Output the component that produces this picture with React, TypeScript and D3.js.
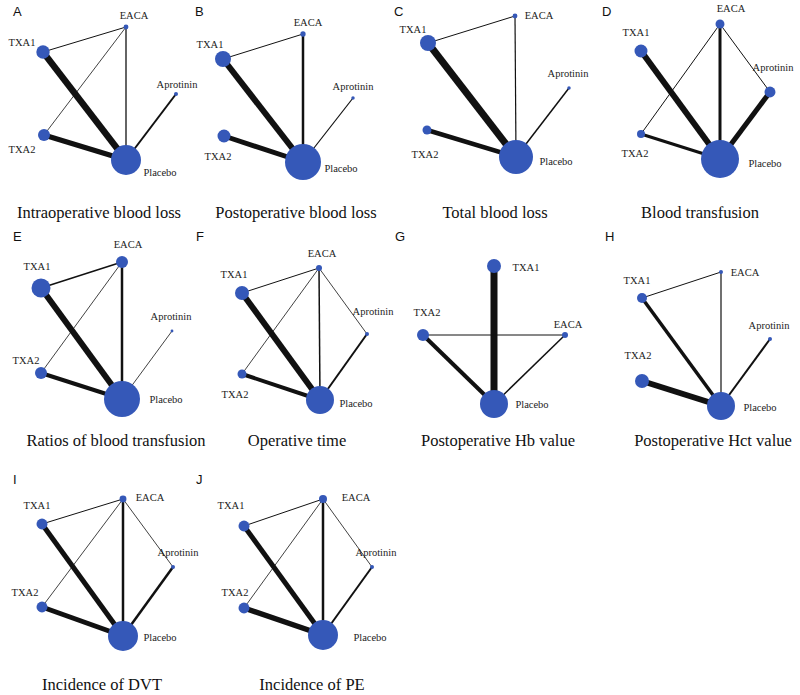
import React from "react";
import * as d3 from "d3";

// ---------------- DATA ----------------
const treatments = ["TXA1", "TXA2", "EACA", "Aprotinin", "Placebo"];
const panelLetters = ["A", "B", "C", "D", "E", "F", "G", "H", "I", "J"];
const outcomes = [
  "Intraoperative blood loss",
  "Postoperative blood loss",
  "Total blood loss",
  "Blood transfusion",
  "Ratios of blood transfusion",
  "Operative time",
  "Postoperative Hb value",
  "Postoperative Hct value",
  "Incidence of DVT",
  "Incidence of PE",
];
// node sizes (order: TXA1, TXA2, EACA, Aprotinin, Placebo); 0 = not in network
const nodeSizes: number[][] = [
  [45, 36, 6, 4, 225],
  [64, 42, 7, 3, 324],
  [64, 20, 6, 3, 289],
  [42, 16, 20, 30, 361],
  [90, 36, 36, 2, 324],
  [49, 20, 9, 4, 196],
  [49, 36, 9, 0, 196],
  [25, 49, 4, 4, 196],
  [30, 30, 12, 4, 225],
  [30, 30, 16, 4, 225],
];
// edge weights (number of comparisons)
const edgeWeights: [string, string, number][][] = [
  [["TXA1", "EACA", 2], ["TXA2", "EACA", 1.6], ["EACA", "Placebo", 2.6], ["TXA1", "Placebo", 13], ["TXA2", "Placebo", 10], ["Aprotinin", "Placebo", 4]],
  [["TXA1", "EACA", 2], ["EACA", "Placebo", 5], ["Aprotinin", "Placebo", 2.4], ["TXA1", "Placebo", 12], ["TXA2", "Placebo", 10]],
  [["TXA1", "EACA", 2], ["EACA", "Placebo", 2.4], ["Aprotinin", "Placebo", 3], ["TXA1", "Placebo", 14], ["TXA2", "Placebo", 9]],
  [["TXA1", "Placebo", 12], ["EACA", "Placebo", 6], ["TXA2", "EACA", 2], ["EACA", "Aprotinin", 2], ["TXA2", "Placebo", 6], ["Aprotinin", "Placebo", 10]],
  [["TXA1", "EACA", 3], ["TXA2", "EACA", 1.6], ["EACA", "Placebo", 5], ["TXA1", "Placebo", 12], ["TXA2", "Placebo", 8], ["Aprotinin", "Placebo", 1.6]],
  [["TXA1", "EACA", 2], ["TXA2", "EACA", 1.6], ["EACA", "Aprotinin", 1.6], ["EACA", "Placebo", 3], ["TXA1", "Placebo", 12], ["TXA2", "Placebo", 8], ["Aprotinin", "Placebo", 4]],
  [["TXA1", "Placebo", 14], ["TXA2", "EACA", 2], ["TXA2", "Placebo", 8], ["EACA", "Placebo", 3]],
  [["TXA1", "EACA", 2], ["EACA", "Placebo", 2.4], ["Aprotinin", "Placebo", 4], ["TXA1", "Placebo", 7], ["TXA2", "Placebo", 12]],
  [["TXA1", "EACA", 2], ["TXA2", "EACA", 1.6], ["EACA", "Aprotinin", 1.6], ["EACA", "Placebo", 5], ["TXA1", "Placebo", 10], ["TXA2", "Placebo", 10], ["Aprotinin", "Placebo", 5]],
  [["TXA1", "EACA", 2], ["TXA2", "EACA", 1.6], ["EACA", "Aprotinin", 1.6], ["EACA", "Placebo", 5], ["TXA1", "Placebo", 10], ["TXA2", "Placebo", 11], ["Aprotinin", "Placebo", 4]],
];

// ---------------- LAYOUT ----------------
const COLS = [0, 195, 395, 595];
const ROWS = [0, 220, 460];
const TITLE_Y = [218, 446, 690];
const LETTER_Y = [16, 241, 484];
const letterX = [13, 195, 394, 602, 13, 196, 395, 605, 13, 196];
const titleX = [99, 296, 495, 700, 116, 297, 498, 713, 102, 312];
// per panel, per treatment: node [x, y] and label [cx, baseline] in panel-local units
type L = Record<string, [number, number, number, number]>;
const layouts: L[] = [
  { EACA: [126, 27, 134, 19], TXA1: [43, 52, 22, 46], Aprotinin: [176, 94, 177, 88], TXA2: [44, 135, 22, 153], Placebo: [126, 160, 160, 176] },
  { EACA: [108, 34, 113, 26], TXA1: [28, 59, 15, 48], Aprotinin: [158, 98, 158, 90], TXA2: [29, 136, 23, 160], Placebo: [108, 162, 146, 172] },
  { EACA: [120, 16, 144, 19], TXA1: [33, 43, 18, 33], Aprotinin: [174, 88, 173, 77], TXA2: [32, 130, 30, 158], Placebo: [121, 157, 161, 165] },
  { EACA: [125, 24, 136, 12], TXA1: [46, 51, 41, 36], Aprotinin: [175, 92, 178, 71], TXA2: [46, 134, 40, 157], Placebo: [125, 159, 170, 167] },
  { EACA: [122, 42, 128, 28], TXA1: [41, 68, 37, 50], Aprotinin: [172, 111, 171, 100], TXA2: [41, 153, 26, 144], Placebo: [122, 179, 166, 183] },
  { EACA: [124, 48, 127, 37], TXA1: [47, 73, 39, 58], Aprotinin: [172, 114, 178, 95], TXA2: [47, 154, 40, 178], Placebo: [125, 180, 161, 187] },
  { TXA1: [99, 46, 131, 51], TXA2: [28, 115, 32, 96], EACA: [170, 115, 173, 108], Placebo: [99, 184, 137, 188] },
  { EACA: [126, 52, 150, 56], TXA1: [47, 78, 42, 64], Aprotinin: [175, 119, 174, 109], TXA2: [47, 161, 43, 139], Placebo: [126, 186, 165, 191] },
  { EACA: [123, 39, 150, 41], TXA1: [42, 64, 37, 49], Aprotinin: [173, 107, 178, 96], TXA2: [42, 147, 25, 136], Placebo: [123, 176, 160, 181] },
  { EACA: [128, 39, 161, 41], TXA1: [49, 66, 36, 49], Aprotinin: [177, 107, 181, 96], TXA2: [49, 148, 40, 136], Placebo: [128, 175, 175, 181] },
];

const NODE_COLOR = "#3558b8";
const SERIF = "'Liberation Serif', 'Times New Roman', Times, serif";
const SANS = "'Liberation Sans', Arial, Helvetica, sans-serif";
const rScale = d3.scaleSqrt().domain([0, 400]).range([0, 20]);
const wScale = d3.scaleLinear().domain([0, 14]).range([0, 7]);

export default function App() {
  return (
    <svg width={800} height={695} style={{ position: "absolute", left: 0, top: 0, background: "#fff" }}>
      <rect width={800} height={695} fill="#fff" />
      {outcomes.map((title, i) => {
        const col = i % 4;
        const row = Math.floor(i / 4);
        const xs = d3.scaleLinear().domain([0, 200]).range([COLS[col], COLS[col] + 200]);
        const ys = d3.scaleLinear().domain([0, 220]).range([ROWS[row], ROWS[row] + 220]);
        const lay = layouts[i];
        const nodes = treatments
          .map((t, k) => ({ name: t, size: nodeSizes[i][k] }))
          .filter((n) => n.size > 0 && lay[n.name]);
        return (
          <g key={i}>
            <text x={letterX[i]} y={LETTER_Y[row]} fontFamily={SANS} fontSize={13} fill="#111">
              {panelLetters[i]}
            </text>
            {edgeWeights[i].map(([a, b, w], k) => (
              <line
                key={k}
                x1={xs(lay[a][0])}
                y1={ys(lay[a][1])}
                x2={xs(lay[b][0])}
                y2={ys(lay[b][1])}
                stroke="#111"
                strokeWidth={wScale(w)}
              />
            ))}
            {nodes.map((n) => (
              <circle key={n.name} cx={xs(lay[n.name][0])} cy={ys(lay[n.name][1])} r={rScale(n.size)} fill={NODE_COLOR} />
            ))}
            {nodes.map((n) => (
              <text
                key={"l" + n.name}
                x={xs(lay[n.name][2])}
                y={ys(lay[n.name][3])}
                textAnchor="middle"
                fontFamily={SERIF}
                fontSize={10.5}
                fill="#222"
              >
                {n.name}
              </text>
            ))}
            <text x={titleX[i]} y={TITLE_Y[row]} textAnchor="middle" fontFamily={SERIF} fontSize={16.5} fill="#111">
              {title}
            </text>
          </g>
        );
      })}
    </svg>
  );
}
